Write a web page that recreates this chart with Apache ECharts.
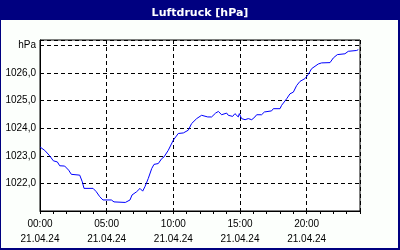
<!DOCTYPE html>
<html><head><meta charset="utf-8">
<script src="https://cdn.jsdelivr.net/npm/echarts@6/dist/echarts.min.js"></script>
<style>
html,body{margin:0;padding:0;background:#fcfffc;}
#wrap{position:relative;width:400px;height:250px;box-sizing:border-box;background:#fcfffc;border-left:1px solid #000080;border-right:2px solid #000080;border-bottom:2px solid #000080;}
#bar{position:absolute;left:-1px;top:0;width:400px;height:20px;background:#000080;}
#c{position:absolute;left:-1px;top:0;width:400px;height:250px;}
</style></head>
<body>
<div id="wrap"><div id="bar"></div><div id="c"></div></div>
<script>
const titleText = 'Luftdruck [hPa]';
const dateLabel = '21.04.24';
const hours = [0.00,0.35,0.73,1.00,1.30,1.48,1.85,2.15,2.35,2.98,3.17,3.30,3.98,4.22,4.48,4.72,5.35,5.55,6.40,6.75,6.90,7.25,7.50,7.70,7.87,8.12,8.38,8.55,8.87,9.13,9.30,9.62,10.00,10.37,10.75,11.12,11.37,11.75,12.12,12.25,12.58,12.87,13.17,13.38,13.62,14.00,14.12,14.45,14.62,14.75,14.87,14.95,15.12,15.38,15.62,15.88,16.12,16.25,16.62,16.83,17.37,17.50,18.00,18.12,18.50,18.75,19.00,19.25,19.50,19.87,20.12,20.37,20.87,21.12,21.75,22.00,22.30,22.87,23.12,23.75,23.87];
const pressure = [1023.32,1023.20,1023.00,1022.82,1022.78,1022.64,1022.63,1022.48,1022.33,1022.30,1022.06,1021.82,1021.82,1021.70,1021.52,1021.40,1021.40,1021.33,1021.31,1021.40,1021.58,1021.70,1021.82,1021.72,1021.88,1022.18,1022.54,1022.69,1022.72,1022.90,1022.96,1023.20,1023.57,1023.81,1023.83,1023.93,1024.17,1024.35,1024.47,1024.49,1024.41,1024.41,1024.55,1024.61,1024.49,1024.55,1024.47,1024.43,1024.53,1024.59,1024.41,1024.53,1024.35,1024.31,1024.35,1024.31,1024.41,1024.49,1024.49,1024.59,1024.63,1024.71,1024.71,1024.83,1025.07,1025.25,1025.31,1025.55,1025.70,1025.80,1025.95,1026.16,1026.33,1026.37,1026.38,1026.55,1026.67,1026.70,1026.79,1026.82,1026.85];
const yTicks = [1022,1023,1024,1025,1026];
const yUnitTick = 1027;
const xLabelHours = [0,5,10,15,20];

const data = hours.map((h,i)=>[h,pressure[i]]);
const font = 'Liberation Sans';
const chart = echarts.init(document.getElementById('c'));
chart.setOption({
  animation:false,
  title:{text:titleText,left:'center',top:3,textStyle:{color:'#fff',fontSize:11,fontWeight:'bold',fontFamily:'DejaVu Sans'}},
  grid:{left:40,top:40,width:320,height:171,show:true,borderColor:'#000',borderWidth:1,backgroundColor:'#fff'},
  xAxis:[{
    type:'value',min:0,max:24,interval:1,
    axisLine:{lineStyle:{color:'#000',width:1}},
    axisTick:{show:true,length:3,lineStyle:{color:'#000'}},
    splitLine:{show:false},
    axisLabel:{color:'#000',fontSize:10,fontFamily:font,margin:6,lineHeight:15,
      formatter:v=>xLabelHours.includes(v)?(String(v).padStart(2,'0')+':00\n'+dateLabel):''}
  },{
    type:'value',min:0,max:24,interval:5,position:'bottom',
    axisLine:{show:false},axisTick:{show:false},axisLabel:{show:false},
    splitLine:{show:true,lineStyle:{color:'#000',type:[4,3],width:1}}
  }],
  yAxis:{
    type:'value',min:1021,max:1027.2,interval:1,
    axisLine:{show:true,lineStyle:{color:'#000'}},
    axisTick:{show:false},
    splitLine:{show:true,lineStyle:{color:'#000',type:[4,3],width:1}},
    axisLabel:{color:'#000',fontSize:10,fontFamily:font,margin:4,
      formatter:v=>v===yUnitTick?'hPa':(yTicks.includes(v)?v.toFixed(1).replace('.',','):'')}
  },
  series:[{type:'line',data:data,showSymbol:false,lineStyle:{color:'#0000ff',width:1},xAxisIndex:0}]
});
</script>
</body></html>
